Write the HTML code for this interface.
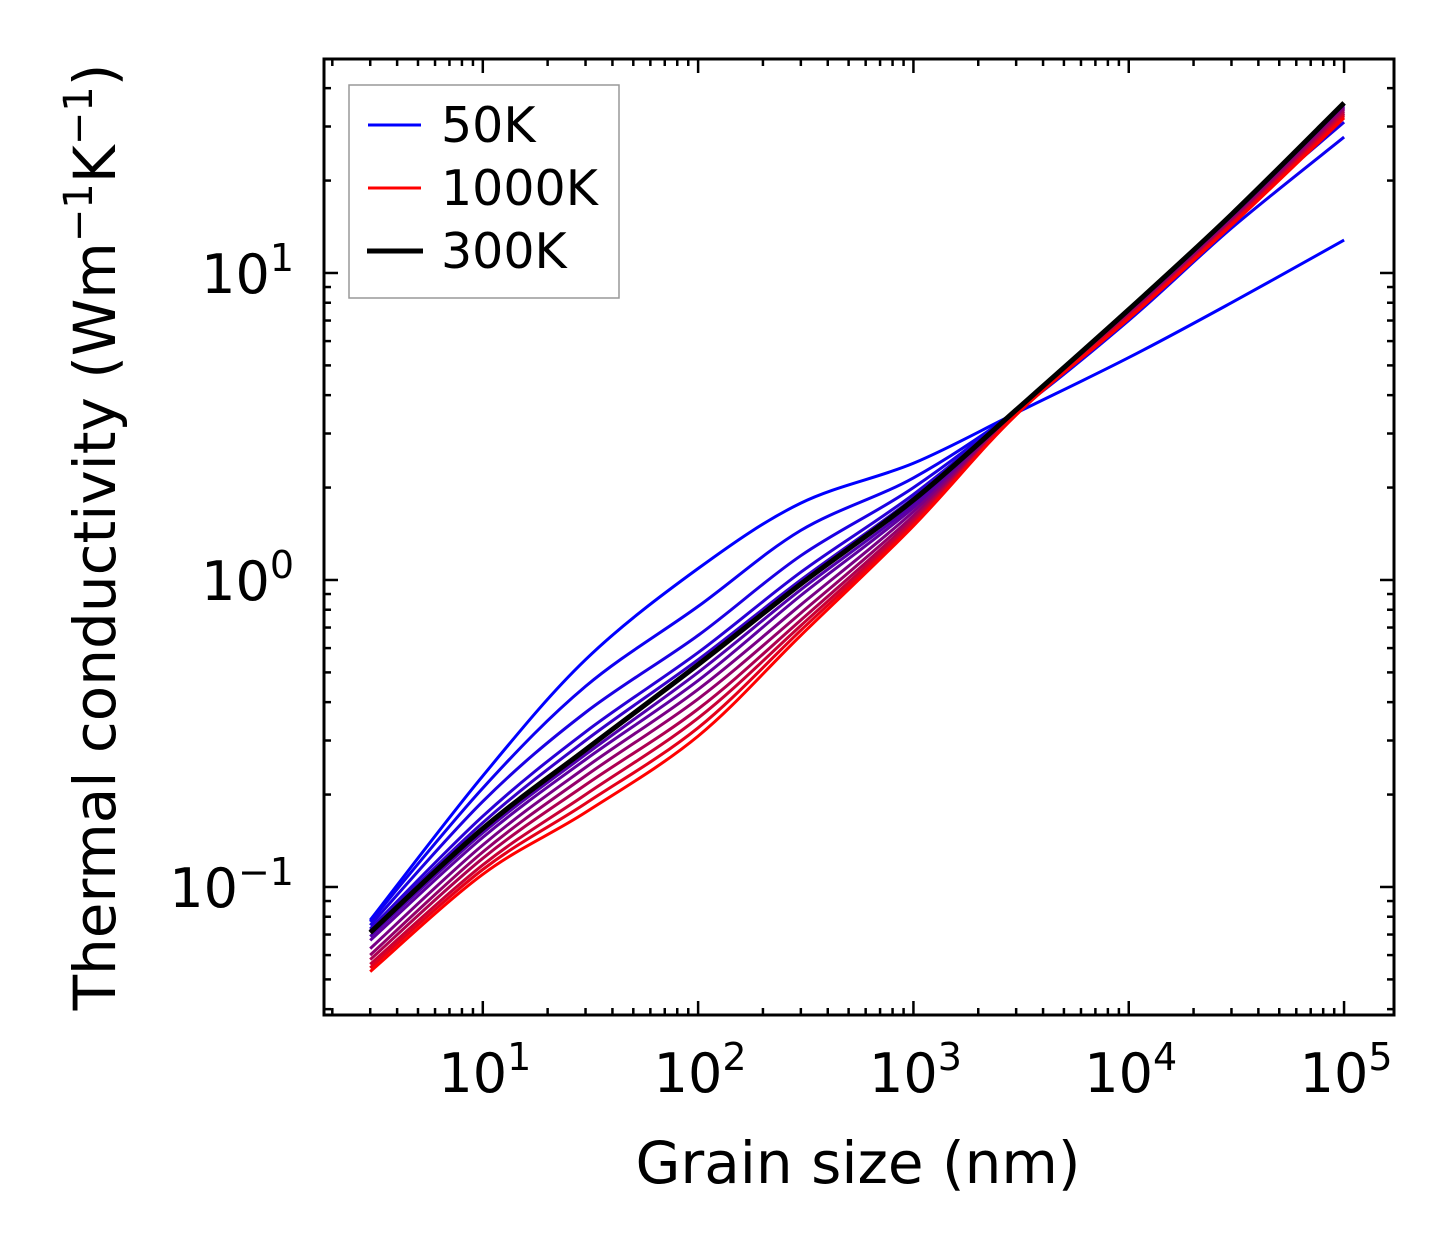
<!DOCTYPE html>
<html><head><meta charset="utf-8"><style>
html,body{margin:0;padding:0;background:#fff;}
svg{display:block;font-family:"DejaVu Sans","Liberation Sans",sans-serif;}
</style></head><body>
<svg id="chart" width="1454" height="1254" viewBox="0 0 1454 1254">
<g id="curves"></g>
<g id="axes"></g>
<g>
<rect x="349" y="85" width="270" height="213" fill="#fff" stroke="#999" stroke-width="1.5"/>
<line x1="368" y1="125" x2="421" y2="125" stroke="#0000ff" stroke-width="3"/>
<text x="441" y="142" font-size="49">50K</text>
<line x1="368" y1="188" x2="421" y2="188" stroke="#ff0000" stroke-width="3"/>
<text x="441" y="205" font-size="49">1000K</text>
<line x1="367" y1="251" x2="423" y2="251" stroke="#000" stroke-width="5"/>
<text x="441" y="268" font-size="49">300K</text>
</g>
<text x="858" y="1183" font-size="58" text-anchor="middle">Grain size (nm)</text>
<text transform="translate(115,537) rotate(-90)" font-size="58" text-anchor="middle">Thermal conductivity (Wm<tspan dy="-23" font-size="40">−1</tspan><tspan dy="23">K</tspan><tspan dy="-23" font-size="40">−1</tspan><tspan dy="23">)</tspan></text>
</svg>
<script>
const grainSizes=[3,10,30,100,300,1000,3000,10000,30000,100000];
const temps=[50,100,150,200,250,350,400,500,600,700,800,900,1000,300];
const k50=[0.078,0.23,0.55,1.09,1.78,2.4,3.5,5.3,8.0,12.8];
const k100=[0.077,0.21,0.45,0.82,1.45,2.15,3.55,7.0,14,27.7];
const k150=[0.075,0.19,0.37,0.66,1.2,2.0,3.58,7.4,15,31];
const k200=[0.073,0.17,0.32,0.58,1.06,1.9,3.58,7.5,15.3,33];
const k250=[0.072,0.162,0.30,0.55,1.0,1.85,3.58,7.55,15.4,34.5];
const k300=[0.071,0.155,0.28,0.53,0.97,1.82,3.58,7.6,15.5,35.8];
const k350=[0.069,0.15,0.27,0.50,0.93,1.76,3.56,7.55,15.3,35.4];
const k400=[0.067,0.145,0.26,0.47,0.89,1.72,3.55,7.5,15.2,35];
const k500=[0.063,0.137,0.245,0.44,0.83,1.67,3.53,7.4,15.0,34.5];
const k600=[0.06,0.13,0.23,0.41,0.78,1.62,3.5,7.3,14.8,34];
const k700=[0.058,0.124,0.215,0.38,0.74,1.58,3.48,7.25,14.6,33.5];
const k800=[0.056,0.118,0.2,0.355,0.71,1.55,3.47,7.2,14.5,33];
const k900=[0.0545,0.114,0.187,0.33,0.685,1.52,3.46,7.15,14.4,32.5];
const k1000=[0.053,0.11,0.175,0.31,0.66,1.5,3.45,7.1,14.3,32];
const series=[k50,k100,k150,k200,k250,k350,k400,k500,k600,k700,k800,k900,k1000,k300];
const xTickExp=[1,2,3,4,5];
const yTickExp=[-1,0,1];

const NS="http://www.w3.org/2000/svg";
const L=324,R=1394,T=59,B=1015;
const xMin=Math.log10(1.83),xMax=Math.log10(170.6e3);
const yMin=-1.417,yMax=1.697;
function xs(v){return L+(Math.log10(v)-xMin)/(xMax-xMin)*(R-L);}
function ys(v){return B-(Math.log10(v)-yMin)/(yMax-yMin)*(B-T);}
function el(t,a,p){const e=document.createElementNS(NS,t);for(const k in a)e.setAttribute(k,a[k]);p.appendChild(e);return e;}
function smoothPath(pts){
 let d="M"+pts[0][0].toFixed(1)+","+pts[0][1].toFixed(1);
 for(let i=0;i<pts.length-1;i++){
  const p0=pts[Math.max(0,i-1)],p1=pts[i],p2=pts[i+1],p3=pts[Math.min(pts.length-1,i+2)];
  const c1=[p1[0]+(p2[0]-p0[0])/6,p1[1]+(p2[1]-p0[1])/6];
  const c2=[p2[0]-(p3[0]-p1[0])/6,p2[1]-(p3[1]-p1[1])/6];
  d+="C"+c1[0].toFixed(1)+","+c1[1].toFixed(1)+" "+c2[0].toFixed(1)+","+c2[1].toFixed(1)+" "+p2[0].toFixed(1)+","+p2[1].toFixed(1);
 }
 return d;
}
const cg=document.getElementById("curves");
series.forEach((s,i)=>{
 const T0=temps[i];
 let col,w=3;
 if(T0===300){col="#000";w=5;}
 else{const f=(T0-50)/950;col="rgb("+Math.round(255*f)+",0,"+Math.round(255*(1-f))+")";}
 const pts=s.map((v,j)=>[xs(grainSizes[j]),ys(v)]);
 const p=el("path",{d:smoothPath(pts),fill:"none",stroke:col,"stroke-width":w},cg);
 
 
});
const ag=document.getElementById("axes");
const frame=el("rect",{x:L,y:T,width:R-L,height:B-T,fill:"none",stroke:"#000","stroke-width":3},ag);


for(let e=0;e<=5;e++){for(let m=1;m<10;m++){const v=m*Math.pow(10,e);const x=xs(v);if(x<L+2||x>R-2)continue;
 const len=m===1?14:7;
 const t1=el("line",{x1:x,y1:B,x2:x,y2:B-len,stroke:"#000","stroke-width":2.5},ag);
 
 
 const t2=el("line",{x1:x,y1:T,x2:x,y2:T+len,stroke:"#000","stroke-width":2.5},ag);
 
 }}
for(let e=-2;e<=1;e++){for(let m=1;m<10;m++){const v=m*Math.pow(10,e);const y=ys(v);if(y<T+2||y>B-2)continue;
 const len=m===1?14:7;
 const t1=el("line",{x1:L,y1:y,x2:L+len,y2:y,stroke:"#000","stroke-width":2.5},ag);
 
 
 const t2=el("line",{x1:R,y1:y,x2:R-len,y2:y,stroke:"#000","stroke-width":2.5},ag);
 
 }}
xTickExp.forEach(e=>{
 const t=el("text",{x:xs(Math.pow(10,e))+2,y:1092,"font-size":54,"text-anchor":"middle"},ag);
 
 
 t.innerHTML='10<tspan dy="-22" font-size="38">'+e+'</tspan>';
});
yTickExp.forEach(e=>{
 const t=el("text",{x:294,y:ys(Math.pow(10,e))+20,"font-size":54,"text-anchor":"end"},ag);
 
 
 t.innerHTML='10<tspan dy="-22" font-size="38">'+(e<0?'−'+(-e):e)+'</tspan>';
});
</script>
</body></html>
